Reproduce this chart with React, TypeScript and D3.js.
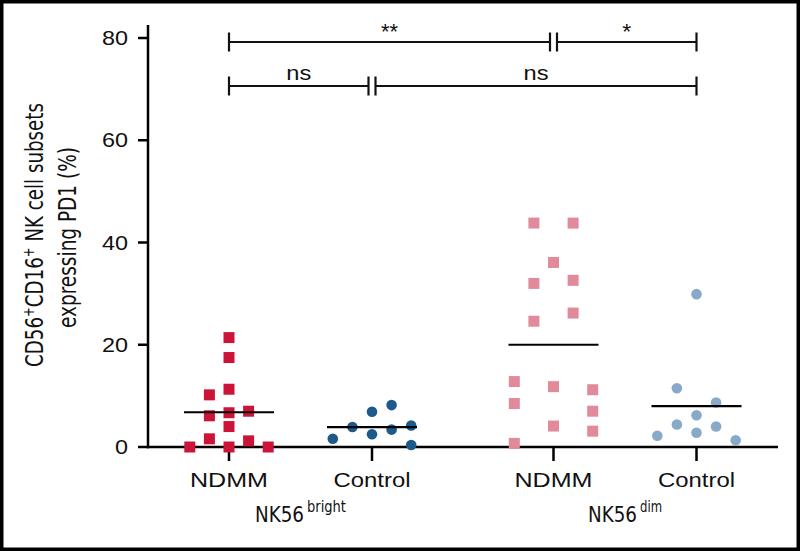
import React from "react";
import * as d3 from "d3";

// ---- data ----
const groups = ["bright", "dim"];
const categories = ["NDMM", "Control"];
const yTicks = [0, 20, 40, 60, 80];

// [column index, value %]
const ndmmBright: [number, number][] = [
  [0, 21.4], [0, 17.5], [0, 11.3], [-1, 10.2], [-1, 6.1], [0, 6.7], [1, 7.0],
  [0, 4.0], [-1, 1.6], [1, 1.2], [-2, 0], [0, 0], [2, 0],
];
const controlBright: [number, number][] = [
  [-2, 1.6], [-1, 3.9], [0, 6.9], [0, 2.5], [1, 8.2], [1, 3.4], [2, 4.2], [2, 0.4],
];
const ndmmDim: [number, number][] = [
  [-1, 43.8], [1, 43.8], [0, 36.1], [-1, 32.0], [1, 32.6], [-1, 24.6], [1, 26.2],
  [-2, 12.8], [-2, 8.5], [-2, 0.7], [0, 11.8], [0, 4.1], [2, 11.2], [2, 7.0], [2, 3.1],
];
const controlDim: [number, number][] = [
  [0, 29.9], [-1, 11.5], [1, 8.7], [0, 6.2], [-1, 4.4], [1, 4.0], [-2, 2.2], [0, 2.8], [2, 1.3],
];
const means = [6.8, 3.9, 20.0, 8.0];

const series = [
  { group: "bright", cat: "NDMM", data: ndmmBright, shape: "square", color: "#cc1438" },
  { group: "bright", cat: "Control", data: controlBright, shape: "circle", color: "#1c5a8c" },
  { group: "dim", cat: "NDMM", data: ndmmDim, shape: "square", color: "#e08a9b" },
  { group: "dim", cat: "Control", data: controlDim, shape: "circle", color: "#88aac8" },
];

// significance brackets
const brackets: { from: [string, string]; to: [string, string]; row: number; label: string; shrinkL: boolean; shrinkR: boolean }[] = [
  { from: ["bright", "NDMM"], to: ["dim", "NDMM"], row: 0, label: "**", shrinkL: false, shrinkR: true },
  { from: ["dim", "NDMM"], to: ["dim", "Control"], row: 0, label: "*", shrinkL: true, shrinkR: false },
  { from: ["bright", "NDMM"], to: ["bright", "Control"], row: 1, label: "ns", shrinkL: false, shrinkR: true },
  { from: ["bright", "Control"], to: ["dim", "Control"], row: 1, label: "ns", shrinkL: true, shrinkR: false },
];

export default function App() {
  const W = 800, H = 551;
  const axisX = 148, axisRight = 778;
  const y = d3.scaleLinear().domain([0, 80]).range([447, 38]);
  const gx = d3.scalePoint<string>().domain(groups).range([300.5, 625]);
  const cx = d3.scalePoint<string>().domain(categories).range([-71.5, 71.5]);
  const colStep = 19.6;
  const X = (g: string, c: string) => (gx(g) as number) + (cx(c) as number);
  const rowY = [42, 86];
  const sans = "'Liberation Sans', Arial, Helvetica, sans-serif";
  const narrow = "'Liberation Sans Narrow', 'DejaVu Sans Condensed', 'Roboto Condensed', sans-serif";
  const sq = 11;
  const catLen: Record<string, number> = { NDMM: 78, Control: 77 };
  const groupMainLen: Record<string, number> = { bright: 49, dim: 49 };
  const groupSupLen: Record<string, number> = { bright: 39, dim: 22 };
  const groupLeft: Record<string, number> = { bright: 255, dim: 588 };

  return (
    <svg width={W} height={H} style={{ position: "absolute", left: 0, top: 0, background: "#fff" }}>
      <rect x={0} y={0} width={W} height={H} fill="#fff" />
      <rect x={1.75} y={1.75} width={W - 3.5} height={H - 3.5} fill="none" stroke="#000" strokeWidth={3.5} />

      {/* y axis */}
      <line x1={axisX} x2={axisX} y1={25} y2={y(0) + 1.2} stroke="#000" strokeWidth={2.5} />
      {yTicks.map((t) => (
        <g key={t}>
          <line x1={axisX - 10} x2={axisX} y1={y(t)} y2={y(t)} stroke="#000" strokeWidth={2.5} />
          <text x={128} y={y(t)} dy="0.36em" textAnchor="end" fontFamily={sans} fontSize={20}
            textLength={String(t).length * 13} lengthAdjust="spacingAndGlyphs" fill="#111">
            {t}
          </text>
        </g>
      ))}

      {/* x axis */}
      <line x1={axisX - 1.2} x2={axisRight} y1={y(0)} y2={y(0)} stroke="#000" strokeWidth={2.5} />
      {groups.map((g) =>
        categories.map((c) => (
          <g key={g + c}>
            <line x1={X(g, c)} x2={X(g, c)} y1={y(0)} y2={y(0) + 14} stroke="#000" strokeWidth={2.5} />
            <text x={X(g, c)} y={487} textAnchor="middle" fontFamily={sans} fontSize={21}
              textLength={catLen[c]} lengthAdjust="spacingAndGlyphs" fill="#111">
              {c}
            </text>
          </g>
        ))
      )}

      {/* group labels */}
      {groups.map((g) => (
        <g key={g}>
          <text x={groupLeft[g]} y={522} fontFamily={narrow} fontSize={22}
            textLength={groupMainLen[g]} lengthAdjust="spacingAndGlyphs" fill="#111">
            NK56
          </text>
          <text x={groupLeft[g] + groupMainLen[g] + 3} y={512} fontFamily={narrow} fontSize={16}
            textLength={groupSupLen[g]} lengthAdjust="spacingAndGlyphs" fill="#111">
            {g}
          </text>
        </g>
      ))}

      {/* y title */}
      <g transform="rotate(-90)">
        <text x={-235} y={43} textAnchor="middle" fontFamily={narrow} fontSize={25}
          textLength={264} lengthAdjust="spacingAndGlyphs" fill="#111">
          CD56<tspan fontSize={16} dy={-9}>+</tspan><tspan dy={9}>CD16</tspan><tspan fontSize={16} dy={-9}>+</tspan><tspan dy={9}> NK cell subsets</tspan>
        </text>
        <text x={-237.5} y={76} textAnchor="middle" fontFamily={narrow} fontSize={25}
          textLength={181} lengthAdjust="spacingAndGlyphs" fill="#111">
          expressing PD1 (%)
        </text>
      </g>

      {/* points */}
      {series.map((s, si) => (
        <g key={si}>
          {s.data.map(([col, v], i) => {
            const px = X(s.group, s.cat) + col * colStep;
            const py = y(v);
            return s.shape === "square" ? (
              <rect key={i} x={px - sq / 2} y={py - sq / 2} width={sq} height={sq} fill={s.color} />
            ) : (
              <circle key={i} cx={px} cy={py} r={5.3} fill={s.color} />
            );
          })}
          <line x1={X(s.group, s.cat) - 45} x2={X(s.group, s.cat) + 45} y1={y(means[si])} y2={y(means[si])} stroke="#000" strokeWidth={2.2} />
        </g>
      ))}

      {/* brackets */}
      {brackets.map((b, i) => {
        const x1 = X(b.from[0], b.from[1]) + (b.shrinkL ? 3.5 : 0);
        const x2 = X(b.to[0], b.to[1]) - (b.shrinkR ? 3.5 : 0);
        const yy = rowY[b.row];
        const isStar = b.label.includes("*");
        return (
          <g key={i}>
            <line x1={x1} x2={x2} y1={yy} y2={yy} stroke="#111" strokeWidth={2} />
            <line x1={x1} x2={x1} y1={yy - 9.5} y2={yy + 9.5} stroke="#111" strokeWidth={2.2} />
            <line x1={x2} x2={x2} y1={yy - 9.5} y2={yy + 9.5} stroke="#111" strokeWidth={2.2} />
            <text x={(x1 + x2) / 2} y={isStar ? yy - 3 : yy - 6} textAnchor="middle" fontFamily={sans}
              fontSize={isStar ? 22 : 21} textLength={b.label === "**" ? 17 : b.label === "*" ? 9 : 25}
              lengthAdjust="spacingAndGlyphs" fill="#111">
              {b.label}
            </text>
          </g>
        );
      })}
    </svg>
  );
}
